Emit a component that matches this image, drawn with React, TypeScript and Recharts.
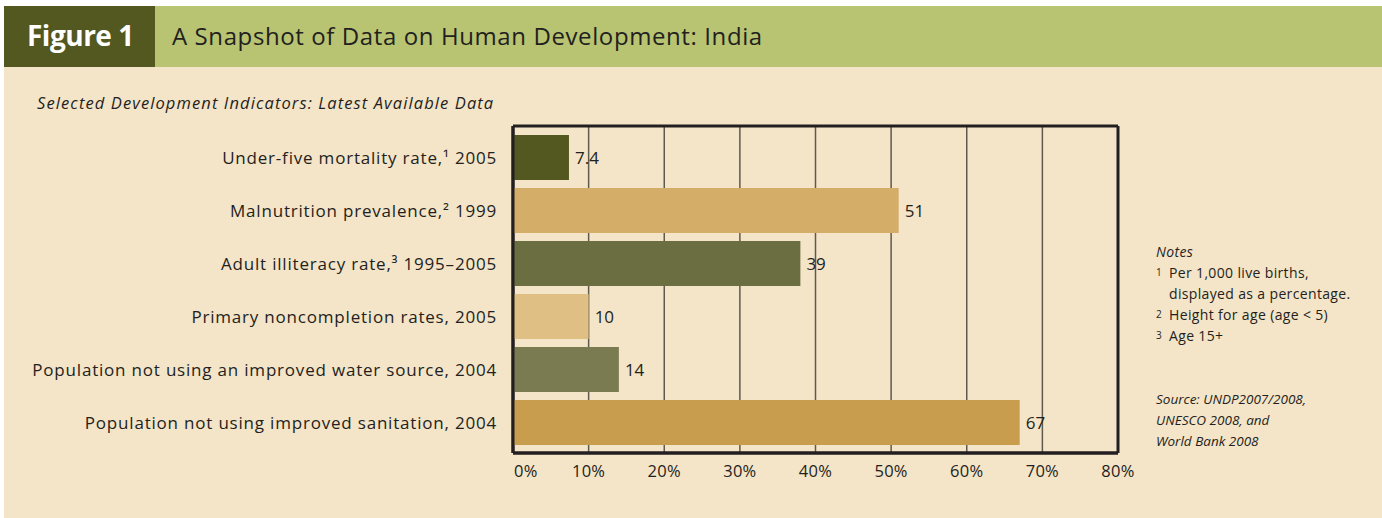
import React from "react";
import { BarChart, Bar, XAxis, YAxis, CartesianGrid, Cell, LabelList } from "recharts";

const categories = [
  "Under-five mortality rate,\u00B9 2005",
  "Malnutrition prevalence,\u00B2 1999",
  "Adult illiteracy rate,\u00B3 1995\u20132005",
  "Primary noncompletion rates, 2005",
  "Population not using an improved water source, 2004",
  "Population not using improved sanitation, 2004",
];
const barValues = [7.4, 51, 38, 10, 14, 67];
const valueLabels = ["7.4", "51", "39", "10", "14", "67"];
const barColors = ["#52581f", "#d4ad68", "#6b6e40", "#dfbf83", "#7a7b50", "#c89d4e"];
const xTicks = [0, 10, 20, 30, 40, 50, 60, 70, 80];

const data = categories.map((name, i) => ({ name, value: barValues[i], label: valueLabels[i] }));

const FONT = "'Open Sans', 'DejaVu Sans', sans-serif";
const TEXT = "#231f20";

const XTick = (props: any) => {
  const { x, y, payload } = props;
  const isZero = payload.value === 0;
  return (
    <text x={isZero ? x + 1 : x} y={y + 16} textAnchor={isZero ? "start" : "middle"} fontFamily={FONT} fontSize={16.5} letterSpacing={0.3} fill={TEXT}>
      {payload.value + "%"}
    </text>
  );
};

const YTick = (props: any) => {
  const { x, y, payload } = props;
  return (
    <text x={x - 8} y={y} dy={6} textAnchor="end" fontFamily={FONT} fontSize={17} letterSpacing={0.8} fill={TEXT}>
      {payload.value}
    </text>
  );
};

const borderLine = { stroke: "#231f20", strokeWidth: 3 };

const frameH = (p: any) => [p.offset.top, p.offset.top + p.offset.height];
const frameV = (p: any) => [p.offset.left, p.offset.left + p.offset.width];

export default function App() {
  return (
    <div style={{ position: "absolute", left: 0, top: 0, width: 1382, height: 518, background: "#ffffff", overflow: "hidden" }}>
      <div style={{ position: "absolute", left: 4, top: 6, width: 1378, height: 512, background: "#f4e4c8" }} />
      <div style={{ position: "absolute", left: 4, top: 6, width: 1378, height: 61, background: "#b8c472" }} />
      <div style={{ position: "absolute", left: 4, top: 6, width: 151, height: 61, background: "#52581f" }} />
      <div style={{ position: "absolute", left: 27, top: 17, color: "#ffffff", fontFamily: FONT, fontWeight: 700, fontSize: 28, lineHeight: "36px", letterSpacing: -0.5 }}>
        Figure 1
      </div>
      <div style={{ position: "absolute", left: 172, top: 20, color: "#231f20", fontFamily: FONT, fontSize: 24, lineHeight: "32px", letterSpacing: 0.6 }}>
        A Snapshot of Data on Human Development: India
      </div>
      <div style={{ position: "absolute", left: 37, top: 92, color: TEXT, fontFamily: FONT, fontStyle: "italic", fontSize: 16.5, lineHeight: "22px", letterSpacing: 1.1 }}>
        Selected Development Indicators: Latest Available Data
      </div>
      <div style={{ position: "absolute", left: 1156, top: 241, color: TEXT, fontFamily: FONT, fontSize: 14, lineHeight: "21px", letterSpacing: 0.35 }}>
        <div style={{ fontStyle: "italic" }}>Notes</div>
        <div><span style={{ display: "inline-block", width: 13, fontSize: 10, verticalAlign: "top" }}>1</span>Per 1,000 live births,</div>
        <div style={{ paddingLeft: 13 }}>displayed as a percentage.</div>
        <div><span style={{ display: "inline-block", width: 13, fontSize: 10, verticalAlign: "top" }}>2</span>Height for age (age &lt; 5)</div>
        <div><span style={{ display: "inline-block", width: 13, fontSize: 10, verticalAlign: "top" }}>3</span>Age 15+</div>
      </div>
      <div style={{ position: "absolute", left: 1156, top: 389, color: TEXT, fontFamily: FONT, fontStyle: "italic", fontSize: 13.5, lineHeight: "21px" }}>
        <div>Source: UNDP2007/2008,</div>
        <div>UNESCO 2008, and</div>
        <div>World Bank 2008</div>
      </div>
      <div style={{ position: "absolute", left: 0, top: 0 }}>
        <BarChart
          width={1140}
          height={518}
          data={data}
          layout="vertical"
          margin={{ top: 126, right: 22, bottom: 25, left: 0 }}
          barSize={45}
        >
          <CartesianGrid horizontal={false} vertical={true} stroke="#5e5a4e" strokeWidth={1.5} />
          <CartesianGrid
            horizontal={true}
            vertical={true}
            horizontalCoordinatesGenerator={frameH}
            verticalCoordinatesGenerator={frameV}
            stroke="#231f20"
            strokeWidth={3}
          />
          <XAxis
            type="number"
            domain={[0, 80]}
            ticks={xTicks}
            interval={0}
            axisLine={borderLine}
            tickLine={false}
            tick={<XTick />}
            height={40}
          />
          <YAxis
            type="category"
            dataKey="name"
            width={513}
            axisLine={borderLine}
            tickLine={false}
            tick={<YTick />}
            interval={0}
            padding={{ top: 5, bottom: 4 }}
          />
          <Bar dataKey="value" isAnimationActive={false}>
            {data.map((d, i) => (
              <Cell key={i} fill={barColors[i]} />
            ))}
            <LabelList dataKey="label" position="right" offset={6} fontFamily={FONT} fontSize={17} fill={TEXT} />
          </Bar>
        </BarChart>
      </div>
    </div>
  );
}
